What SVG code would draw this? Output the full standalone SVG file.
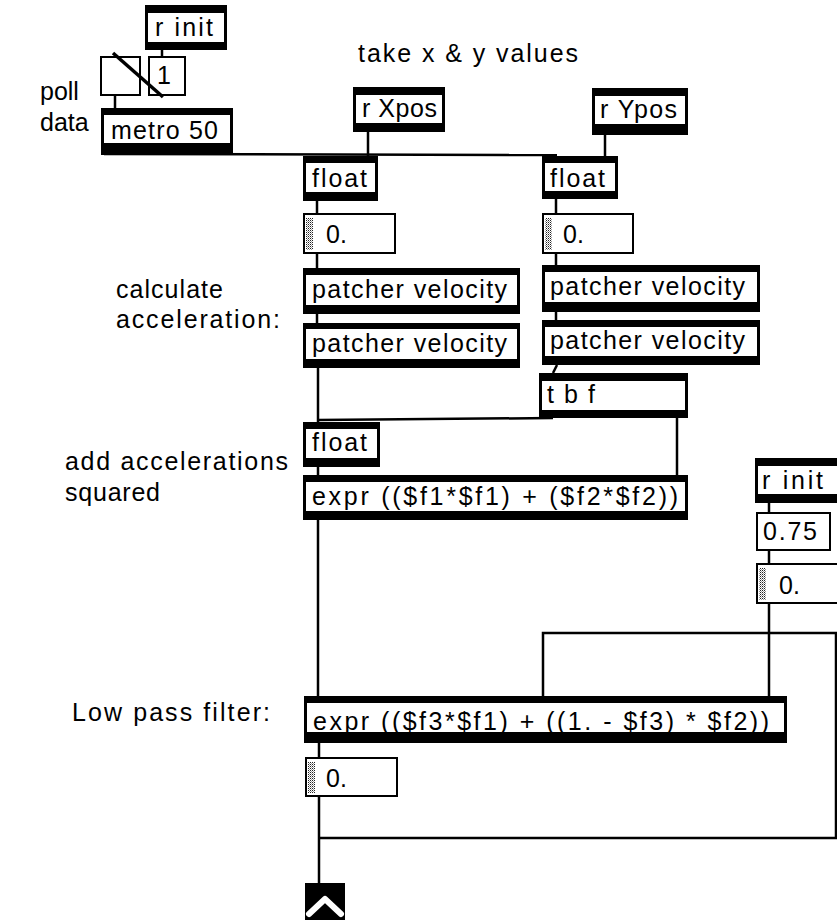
<svg xmlns="http://www.w3.org/2000/svg" width="837" height="920" viewBox="0 0 837 920">
<style>
.ob{fill:#000}
.wi{fill:#fff}
.bx{fill:#fff;stroke:#000;stroke-width:2}
.t{font-family:"Liberation Sans",Arial,sans-serif;font-size:25px;fill:#000}
.lb{font-family:"Liberation Sans",Arial,sans-serif;font-size:25px;fill:#000}
.c{fill:none;stroke:#000;stroke-width:2.5}
</style>
<defs>
<pattern id="stip" width="2" height="2" patternUnits="userSpaceOnUse">
<rect width="2" height="2" fill="#fff"/>
<rect width="1" height="1" fill="#222"/>
<rect x="1" y="1" width="1" height="1" fill="#999"/>
</pattern>
</defs>
<rect width="837" height="920" fill="#fff"/>

<g id="labels">
<text class="lb" x="40" y="100">poll</text>
<text class="lb" x="40" y="131">data</text>
<text class="lb" x="358" y="62" textLength="220">take x &amp; y values</text>
<text class="lb" x="116" y="298" textLength="107">calculate</text>
<text class="lb" x="116" y="328" textLength="164">acceleration:</text>
<text class="lb" x="65" y="470" textLength="223">add accelerations</text>
<text class="lb" x="65" y="501" textLength="95">squared</text>
<text class="lb" x="72" y="721" textLength="198">Low pass filter:</text>
</g>

<g id="r_init_1"><rect class="ob" x="145" y="5" width="82" height="45"/><rect class="wi" x="148" y="13" width="76" height="29"/><text class="t" x="155" y="36" textLength="58">r init</text></g>
<g id="toggle"><rect class="bx" x="101" y="57" width="39" height="38"/></g>
<g id="msg_1"><rect class="bx" x="149" y="57" width="36" height="38"/><text class="t" x="157" y="84">1</text></g>
<g id="metro"><rect class="ob" x="101" y="108" width="132" height="47"/><rect class="wi" x="104" y="115" width="126" height="28"/><text class="t" x="111" y="139" textLength="107">metro 50</text></g>

<g id="r_Xpos"><rect class="ob" x="353" y="87" width="92" height="45"/><rect class="wi" x="356" y="95" width="86" height="28"/><text class="t" x="362" y="117" textLength="75">r Xpos</text></g>
<g id="r_Ypos"><rect class="ob" x="592" y="88" width="96" height="47"/><rect class="wi" x="595" y="96" width="90" height="28"/><text class="t" x="600" y="118" textLength="77">r Ypos</text></g>

<g id="float_x"><rect class="ob" x="303" y="156" width="75" height="45"/><rect class="wi" x="306" y="163" width="69" height="29"/><text class="t" x="312" y="187" textLength="55">float</text></g>
<g id="float_y"><rect class="ob" x="542" y="156" width="76" height="43"/><rect class="wi" x="545" y="163" width="70" height="28"/><text class="t" x="550" y="187" textLength="55">float</text></g>

<g id="num_x"><rect class="bx" x="304" y="214" width="91" height="39"/><rect x="306" y="218" width="7" height="32" fill="url(#stip)"/><text class="t" x="326" y="243">0.</text></g>
<g id="num_y"><rect class="bx" x="543" y="214" width="90" height="39"/><rect x="545" y="218" width="7" height="32" fill="url(#stip)"/><text class="t" x="563" y="243">0.</text></g>

<g id="vel_x1"><rect class="ob" x="303" y="268" width="217" height="46"/><rect class="wi" x="306" y="275" width="211" height="30"/><text class="t" x="312" y="298" textLength="195">patcher velocity</text></g>
<g id="vel_x2"><rect class="ob" x="303" y="323" width="217" height="45"/><rect class="wi" x="306" y="329" width="211" height="30"/><text class="t" x="312" y="352" textLength="195">patcher velocity</text></g>
<g id="vel_y1"><rect class="ob" x="542" y="265" width="218" height="47"/><rect class="wi" x="545" y="272" width="212" height="30"/><text class="t" x="550" y="295" textLength="195">patcher velocity</text></g>
<g id="vel_y2"><rect class="ob" x="542" y="320" width="218" height="45"/><rect class="wi" x="545" y="327" width="212" height="29"/><text class="t" x="550" y="349" textLength="195">patcher velocity</text></g>

<g id="tbf"><rect class="ob" x="539" y="373" width="149" height="45"/><rect class="wi" x="542" y="381" width="143" height="29"/><text class="t" x="547" y="403" textLength="48">t b f</text></g>
<g id="float_acc"><rect class="ob" x="303" y="422" width="77" height="45"/><rect class="wi" x="306" y="429" width="71" height="29"/><text class="t" x="312" y="451" textLength="55">float</text></g>
<g id="expr_sq"><rect class="ob" x="303" y="475" width="385" height="45"/><rect class="wi" x="306" y="482" width="379" height="29"/><text class="t" x="312" y="505" textLength="366">expr (($f1*$f1) + ($f2*$f2))</text></g>

<g id="r_init_2"><rect class="ob" x="755" y="458" width="90" height="45"/><rect class="wi" x="758" y="466" width="84" height="28"/><text class="t" x="762" y="489" textLength="61">r init</text></g>
<g id="msg_075"><rect class="bx" x="757" y="513" width="73" height="37"/><text class="t" x="763" y="540" textLength="54">0.75</text></g>
<g id="num_coef"><rect class="bx" x="757" y="564" width="90" height="39"/><rect x="759" y="568" width="7" height="32" fill="url(#stip)"/><text class="t" x="779" y="594">0.</text></g>

<g id="expr_lp"><rect class="ob" x="304" y="696" width="483" height="47"/><rect class="wi" x="307" y="703" width="477" height="29"/><text class="t" x="313" y="730" textLength="456">expr (($f3*$f1) + ((1. - $f3) * $f2))</text></g>
<g id="num_out"><rect class="bx" x="306" y="758" width="91" height="38"/><rect x="308" y="762" width="7" height="31" fill="url(#stip)"/><text class="t" x="326" y="787">0.</text></g>
<g id="outlet"><rect class="ob" x="305" y="883" width="40" height="45"/><path d="M309 914 L325 899 L341 914" fill="none" stroke="#fff" stroke-width="6" stroke-linecap="round" stroke-linejoin="round"/></g>

<g id="connectors">
<path class="c" d="M162 50 V56"/>
<path class="c" d="M113 53 L163 97" style="stroke-width:3.5"/>
<path class="c" d="M115 95 V108"/>
<path class="c" d="M104 154 L557 155"/>
<path class="c" d="M368 132 V156"/>
<path class="c" d="M605 135 V156"/>
<path class="c" d="M317 201 V213"/>
<path class="c" d="M556 199 V213"/>
<path class="c" d="M317 253 V268"/>
<path class="c" d="M556 253 V265"/>
<path class="c" d="M317 314 V323"/>
<path class="c" d="M556 312 V320"/>
<path class="c" d="M318 368 V422"/>
<path class="c" d="M557 365 L553 373"/>
<path class="c" d="M553 418 L318 420"/>
<path class="c" d="M677 418 V475"/>
<path class="c" d="M318 467 V475"/>
<path class="c" d="M318 520 V696"/>
<path class="c" d="M769 503 V512"/>
<path class="c" d="M769 550 V563"/>
<path class="c" d="M769 603 V696"/>
<path class="c" d="M319 838 H836 V633 H543 V696"/>
<path class="c" d="M319 743 V757"/>
<path class="c" d="M319 796 V883"/>
</g>
</svg>
